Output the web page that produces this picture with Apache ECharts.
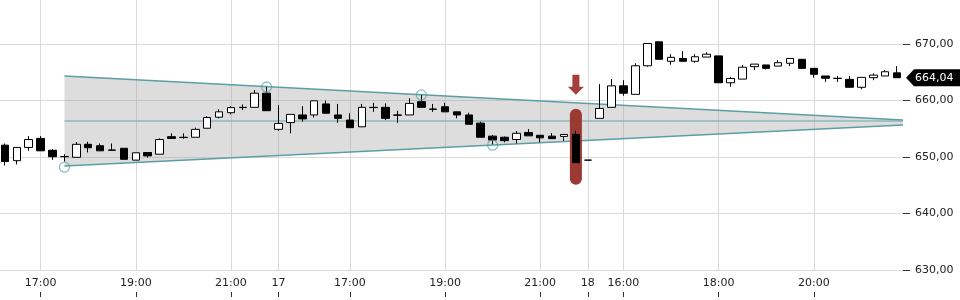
<!DOCTYPE html>
<html><head><meta charset="utf-8">
<script src="https://cdn.jsdelivr.net/npm/echarts@6/dist/echarts.min.js"></script>
<style>html,body{margin:0;padding:0;background:#fff}#c{width:960px;height:300px}</style>
</head><body><div id="c"></div>
<script>
const categories = [
 '16 16:15','16 16:30','16 16:45','16 17:00','16 17:15','16 17:30','16 17:45','16 18:00','16 18:15','16 18:30','16 18:45','16 19:00',
 '16 19:15','16 19:30','16 19:45','16 20:00','16 20:15','16 20:30','16 20:45','16 21:00','16 21:15','16 21:30','16 21:45',
 '17 15:30','17 15:45','17 16:00','17 16:15','17 16:30','17 16:45','17 17:00','17 17:15','17 17:30','17 17:45','17 18:00','17 18:15',
 '17 18:30','17 18:45','17 19:00','17 19:15','17 19:30','17 19:45','17 20:00','17 20:15','17 20:30','17 20:45','17 21:00','17 21:15',
 '17 21:30','17 21:45',
 '18 15:15','18 15:30','18 15:45','18 16:00','18 16:15','18 16:30','18 16:45','18 17:00','18 17:15','18 17:30','18 17:45','18 18:00',
 '18 18:15','18 18:30','18 18:45','18 19:00','18 19:15','18 19:30','18 19:45','18 20:00','18 20:15','18 20:30','18 20:45','18 21:00',
 '18 21:15','18 21:30','18 21:45'
];
const opens = [652.1,649.35,651.7,653.3,651.2,650.1,649.95,652.25,652.0,651.25,651.55,649.45,650.8,650.5,653.6,653.5,653.5,655.1,657.05,657.85,
 658.8,658.8,661.3,654.9,656.1,657.45,657.45,659.4,657.45,656.55,655.35,658.8,658.8,657.45,657.45,659.8,658.5,658.9,658.0,657.45,
 656.0,653.7,653.5,653.1,654.35,653.85,653.7,653.65,654.0,649.45,656.85,658.8,662.6,661.1,666.15,670.4,666.95,667.45,666.95,667.7,
 667.9,663.15,663.8,666.0,666.3,666.1,666.6,667.3,665.7,664.35,663.95,663.75,662.35,664.05,664.35,664.9];
const closes = [649.2,651.7,653.1,651.1,650.05,650.05,652.25,651.65,651.1,651.2,649.6,650.75,650.2,653.1,653.3,653.45,654.9,657.0,658.0,658.75,
 658.75,661.3,658.2,655.95,657.55,656.75,659.95,657.75,656.85,655.2,658.8,658.75,656.85,657.4,659.5,658.8,658.45,658.0,657.45,655.8,
 653.5,653.0,652.9,654.2,653.75,653.4,653.25,654.0,649.0,649.45,658.6,662.6,661.3,666.15,670.1,667.3,667.65,666.95,667.75,668.2,
 663.15,663.9,665.9,666.45,665.7,666.7,667.45,665.7,664.65,663.95,663.9,662.35,664.1,664.5,665.1,664.04];
const lows = [648.5,648.7,651.1,651.1,649.5,649.2,649.95,650.8,651.1,651.2,649.6,649.45,649.9,650.5,653.3,653.25,653.5,655.1,656.85,657.55,
 658.3,658.8,658.2,654.65,654.2,656.25,657.0,657.75,656.05,655.2,655.3,658.0,656.55,656.05,657.45,658.8,658.0,658.0,656.85,655.8,
 653.5,652.25,652.6,652.4,653.75,652.6,653.25,652.85,649.0,649.45,656.85,658.8,660.85,661.1,666.0,667.3,666.35,666.95,666.7,667.7,
 663.15,662.45,663.8,665.4,665.5,666.1,666.1,665.7,664.05,663.3,663.3,662.35,662.0,663.6,664.35,664.04];
const highs = [652.4,651.75,653.7,653.7,651.4,650.5,652.65,652.7,652.4,652.4,651.55,650.75,650.8,653.3,654.2,654.2,655.2,657.25,658.45,659.0,
 659.3,661.85,662.45,659.2,657.55,659.0,659.95,660.0,659.4,657.75,659.4,659.6,659.5,658.2,660.4,661.0,659.4,659.6,658.0,657.85,
 656.25,653.9,653.65,654.6,654.95,653.85,654.25,654.0,654.65,649.45,662.9,663.8,663.6,666.6,670.1,670.4,668.2,668.75,668.2,668.55,
 667.9,664.2,666.3,666.45,666.3,667.15,667.45,667.3,665.7,664.35,664.35,664.35,664.1,664.8,665.4,666.1];

const tickCategories = ['16 17:00','16 19:00','16 21:00','17 15:30','17 17:00','17 19:00','17 21:00','18 15:15','18 16:00','18 18:00','18 20:00'];
const tickTexts = ['17:00','19:00','21:00','17','17:00','19:00','21:00','18','16:00','18:00','20:00'];
const yTicks = [630, 640, 650, 660, 670];

const triStart = 5;
const triUpper = [664.34, 656.55];
const triLower = [648.41, 655.66];
const triMid = 656.38;
const pivotIndex = [5, 22, 35, 41];
const pivotValue = [648.2, 662.4, 661.0, 652.1];
const highlightIndex = 48;
const lastIndex = 75;
const lastPrice = 664.04;

const FONT = '"DejaVu Sans", sans-serif';
const fmt = v => Number(v).toFixed(2).replace('.', ',');
const showTick = (i, v) => tickCategories.indexOf(v) >= 0;

const candleData = opens.map((o, i) => [o, closes[i], lows[i], highs[i]]);

const chart = echarts.init(document.getElementById('c'), null, {renderer: 'canvas'});
chart.setOption({
  animation: false,
  backgroundColor: '#fff',
  grid: {left: -1, right: 57, top: 0, bottom: 30, containLabel: false, outerBoundsMode: 'none'},
  xAxis: [{
    type: 'category', data: categories, boundaryGap: true,
    axisLine: {show: false}, axisTick: {show: false},
    axisLabel: {interval: showTick, formatter: v => tickTexts[tickCategories.indexOf(v)] || '',
      margin: 8, fontSize: 11, color: '#222', fontFamily: FONT},
    splitLine: {show: true, interval: showTick, alignWithLabel: true, lineStyle: {color: '#dadada', width: 1}}
  }, {
    type: 'category', data: categories, boundaryGap: true, position: 'bottom', offset: 27,
    axisLine: {show: false},
    axisTick: {show: true, inside: true, length: 5, interval: showTick, alignWithLabel: true, lineStyle: {color: '#333'}},
    axisLabel: {show: false}, splitLine: {show: false}
  }],
  yAxis: {
    type: 'value', position: 'right', min: 630, max: 677.8, interval: 10,
    axisLine: {show: false},
    axisTick: {show: true, length: 7, customValues: yTicks, lineStyle: {color: '#333'}},
    axisLabel: {margin: 12, customValues: yTicks, formatter: fmt, fontSize: 11, color: '#222', fontFamily: FONT},
    splitLine: {show: true, lineStyle: {color: '#dadada', width: 1}}
  },
  series: [
    {
      type: 'custom', z: 1, silent: true, clip: false,
      data: [[triStart, triUpper[0]]], encode: {x: 0, y: 1},
      renderItem: (params, api) => {
        const cs = params.coordSys;
        const x0 = api.coord([triStart, triUpper[0]])[0];
        const x1 = cs.x + cs.width;
        const yu0 = api.coord([triStart, triUpper[0]])[1], yu1 = api.coord([triStart, triUpper[1]])[1];
        const yl0 = api.coord([triStart, triLower[0]])[1], yl1 = api.coord([triStart, triLower[1]])[1];
        const ym = api.coord([triStart, triMid])[1];
        return {type: 'group', children: [
          {type: 'polygon', shape: {points: [[x0, yu0], [x1, yu1], [x1, yl1], [x0, yl0]]}, style: {fill: 'rgba(150,150,150,0.32)'}},
          {type: 'line', shape: {x1: x0, y1: ym, x2: x1, y2: ym}, style: {stroke: '#6aa7ab', lineWidth: 1.2}},
          {type: 'line', shape: {x1: x0, y1: yu0, x2: x1, y2: yu1}, style: {stroke: '#5b9fa4', lineWidth: 1.5}},
          {type: 'line', shape: {x1: x0, y1: yl0, x2: x1, y2: yl1}, style: {stroke: '#5b9fa4', lineWidth: 1.5}}
        ]};
      }
    },
    {
      type: 'custom', z: 2, silent: true, clip: false,
      data: [[highlightIndex, highs[highlightIndex], lows[highlightIndex]]], encode: {x: 0, y: [1, 2]},
      renderItem: (params, api) => {
        const p = api.coord([api.value(0), api.value(1)]);
        const q = api.coord([api.value(0), api.value(2)]);
        const cx = p[0], top = p[1] - 56;
        return {type: 'group', children: [
          {type: 'rect', shape: {x: cx - 6, y: p[1] - 22, width: 12, height: q[1] - p[1] + 44, r: 6}, style: {fill: '#9b3a33'}},
          {type: 'polygon', shape: {points: [[cx - 3.5, top], [cx + 3.5, top], [cx + 3.5, top + 12], [cx + 8, top + 12],
            [cx, top + 20], [cx - 8, top + 12], [cx - 3.5, top + 12]]}, style: {fill: '#a13f38'}}
        ]};
      }
    },
    {
      type: 'candlestick', z: 3, data: candleData, barWidth: 8, clip: false,
      itemStyle: {color: '#fff', color0: '#000', borderColor: '#000', borderColor0: '#000', borderWidth: 1}
    },
    {
      type: 'scatter', z: 4, silent: true, symbol: 'circle', symbolSize: 10,
      data: pivotIndex.map((idx, k) => [idx, pivotValue[k]]),
      itemStyle: {color: 'rgba(255,255,255,0)', borderColor: 'rgba(85,160,165,0.85)', borderWidth: 1.3}
    },
    {
      type: 'custom', z: 5, silent: true, clip: false,
      data: [[lastIndex, lastPrice]], encode: {x: 0, y: 1},
      renderItem: (params, api) => {
        const cs = params.coordSys;
        const y = api.coord([api.value(0), api.value(1)])[1];
        const x0 = cs.x + cs.width + 3;
        return {type: 'group', children: [
          {type: 'polygon', shape: {points: [[x0, y], [x0 + 8, y - 8.5], [960, y - 8.5], [960, y + 8.5], [x0 + 8, y + 8.5]]}, style: {fill: '#000'}},
          {type: 'text', style: {text: fmt(api.value(1)), x: cs.x + cs.width + 12, y: y, fill: '#fff', font: '11px ' + FONT, align: 'left', verticalAlign: 'middle'}}
        ]};
      }
    }
  ]
});
</script></body></html>
